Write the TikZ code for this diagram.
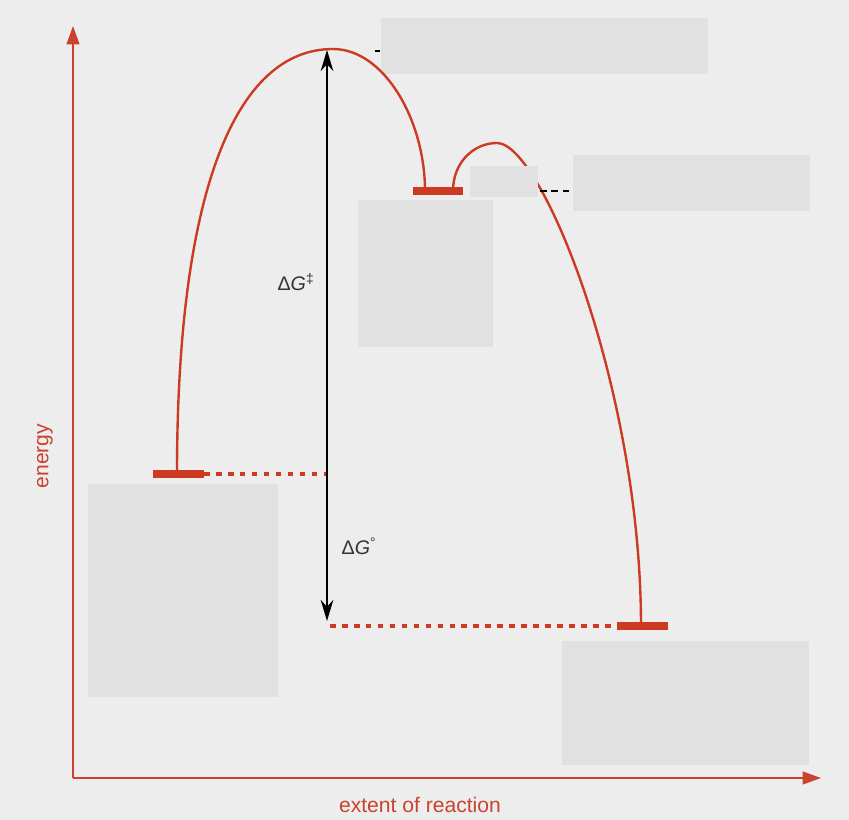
\documentclass[tikz,border=0pt]{standalone}
\usepackage{fontspec}
\setmainfont{Liberation Sans}
\usepackage{tikz}
\usetikzlibrary{arrows.meta,positioning}
\definecolor{PathRed}{HTML}{CC3A22}
\definecolor{AxisRed}{HTML}{C9442E}
\definecolor{PaperGray}{HTML}{EDEDED}
\definecolor{MaskGray}{HTML}{E1E1E1}

\begin{document}
\begin{tikzpicture}[x=0.025cm,y=-0.025cm,font=\fontsize{15}{18}\selectfont,
    level/.style={PathRed,line width=5.5pt},
    hump/.style={PathRed,line width=1.7pt},
    guide/.style={PathRed,line width=2.4pt,dash pattern=on 4pt off 4.5pt},
    mask/.style={fill=MaskGray},
    axis/.style={AxisRed,line width=1.4pt,-{Triangle[length=13pt,width=9pt]}},
    gap/.style={black,line width=1.4pt,-{Stealth[length=15pt,width=9pt]}}]
  \fill[PaperGray] (0,0) rectangle (849,820);
  \useasboundingbox (0,0) rectangle (849,820);
  % grey panels
  \fill[mask] (381,18) rectangle (708,74);
  \fill[mask] (573,155) rectangle (810,211);
  \fill[mask] (358,200) rectangle (493,347);
  \fill[mask] (88,484) rectangle (278,697);
  \fill[mask] (562,641) rectangle (809,765);
  % axes
  \coordinate (origin) at (73,778);
  \coordinate (ytip) at (73,26);
  \coordinate (xtip) at (821,778);
  \draw[axis] (origin) -- (ytip);
  \draw[axis] (origin) -- (xtip);
  \node[AxisRed,rotate=90] (ylab) at (45,456) {energy};
  \node[AxisRed] (xlab) at (420,805) {extent of reaction};
  % energy levels
  \coordinate (reactL) at (153,474); \coordinate (reactR) at (204,474);
  \coordinate (interL) at (413,191); \coordinate (interR) at (463,191);
  \coordinate (prodL) at (617,626);  \coordinate (prodR) at (668,626);
  \coordinate (react) at (177,474);
  \coordinate (ts1) at (333,49);
  \coordinate (interA) at (425,191);
  \coordinate (interB) at (453,191);
  \coordinate (ts2) at (497,143);
  \coordinate (prod) at (641,626);
  \draw[hump] (react) .. controls (177,190) and (236,49) .. (ts1)
    .. controls (384,49) and (425,120) .. (interA);
  \draw[hump] (interB) .. controls (453,162) and (474,143) .. (ts2)
    .. controls (542,143) and (641,390) .. (prod);
  \draw[level] (reactL) -- (reactR);
  \draw[level] (interL) -- (interR);
  \draw[level] (prodL) -- (prodR);
  % dotted guides
  \coordinate (midR) at (326,474);
  \coordinate (midP) at (330,626);
  \draw[guide] (reactR) -- (midR);
  \draw[guide] (midP) -- (prodL);
  \fill[mask] (470,166) rectangle (538,197);
  \coordinate (tickA) at (375,51); \coordinate (tickB) at (380,51);
  \coordinate (leadA) at (540,191); \coordinate (leadB) at (569,191);
  \draw[black,line width=1pt] (tickA) -- (tickB);
  \draw[black,line width=1.4pt,dash pattern=on 5pt off 3pt] (leadA) -- (leadB);
  % free energy arrows
  \coordinate (gapM) at (327,474);
  \coordinate (gapT) at (327,50);
  \coordinate (gapB) at (327,621);
  \draw[gap] (gapM) -- (gapT);
  \draw[gap] (gapM) -- (gapB);
  \node[black!80,font=\fontsize{14}{16}\selectfont] (dGts) at (296,282) {Δ\textit{G}\textsuperscript{‡}};
  \node[black!80,font=\fontsize{14}{16}\selectfont] (dGo) at (359,546) {Δ\textit{G}\textsuperscript{°}};
\end{tikzpicture}
\end{document}
